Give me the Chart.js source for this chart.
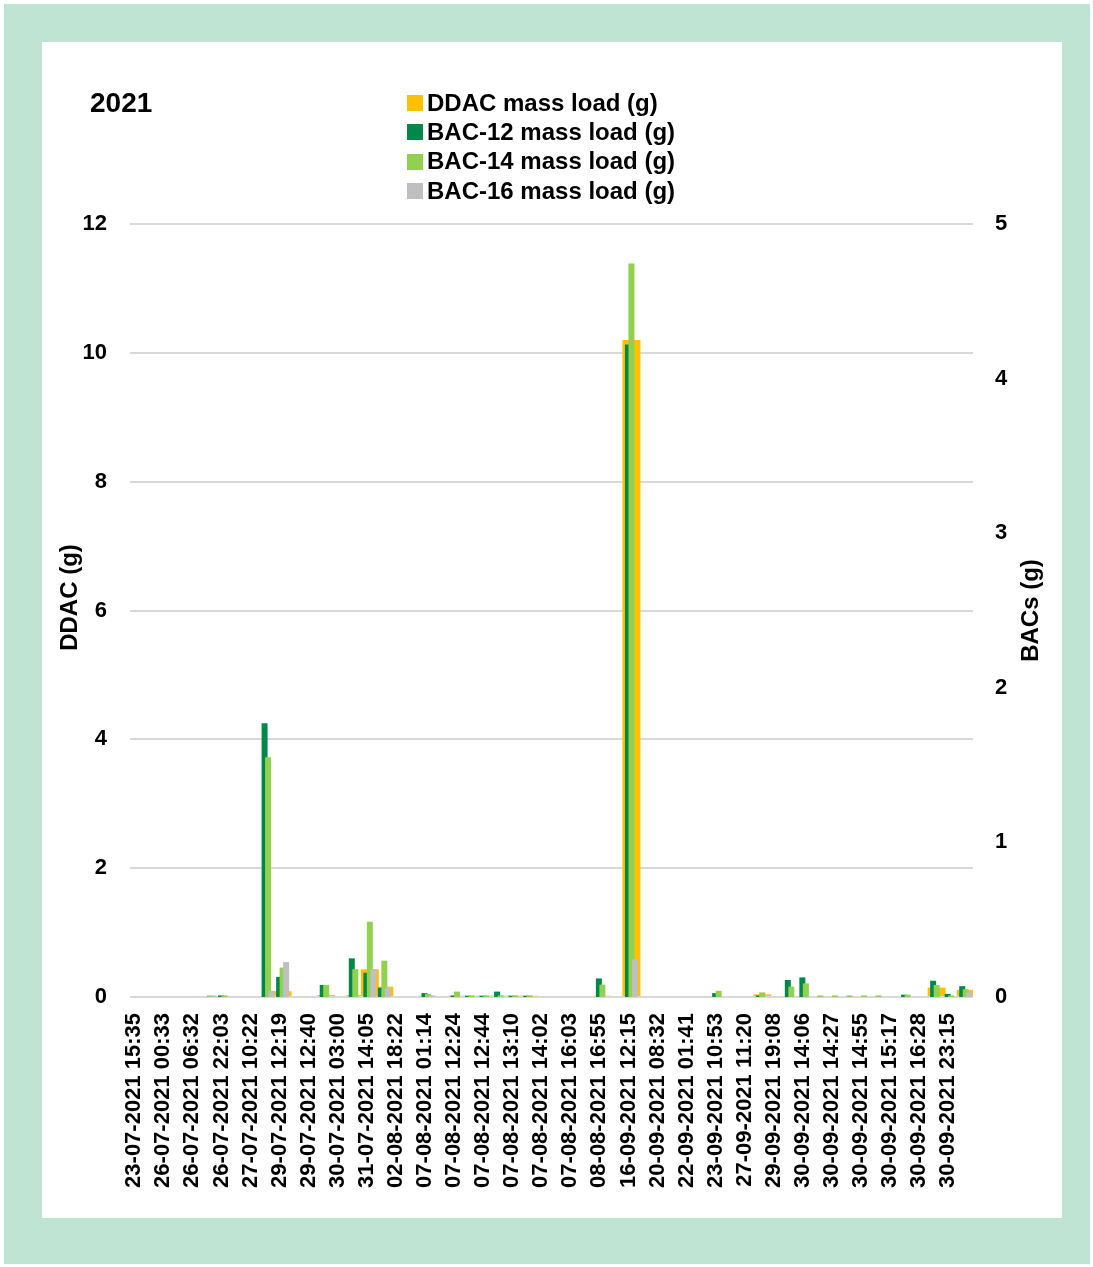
<!DOCTYPE html>
<html>
<head>
<meta charset="utf-8">
<script src="https://cdn.jsdelivr.net/npm/chart.js@4.4.0/dist/chart.umd.min.js"></script>
<style>
  html, body { margin: 0; padding: 0; background: #ffffff; }
  #frame { position: absolute; left: 4px; top: 4px; width: 1086px; height: 1260px; background: #bfe4d3; }
  #panel { position: absolute; left: 42px; top: 42px; width: 1020px; height: 1176px; background: #ffffff; }
  canvas { display: block; }
</style>
</head>
<body>
<div id="frame"></div>
<div id="panel"><canvas id="c" width="1020" height="1176"></canvas></div>
<script>
// ---------- data ----------
const chartTitle = '2021';
const axisTitles = ['DDAC (g)', 'BACs (g)'];
const seriesNames = ['DDAC mass load (g)', 'BAC-12 mass load (g)', 'BAC-14 mass load (g)', 'BAC-16 mass load (g)'];
const seriesColors = ['#FFC000', '#00884B', '#92D050', '#BFBFBF'];

// visible tick labels (every second category is labelled)
const tickLabels = [
  '23-07-2021 15:35', '26-07-2021 00:33', '26-07-2021 06:32', '26-07-2021 22:03',
  '27-07-2021 10:22', '29-07-2021 12:19', '29-07-2021 12:40', '30-07-2021 03:00',
  '31-07-2021 14:05', '02-08-2021 18:22', '07-08-2021 01:14', '07-08-2021 12:24',
  '07-08-2021 12:44', '07-08-2021 13:10', '07-08-2021 14:02', '07-08-2021 16:03',
  '08-08-2021 16:55', '16-09-2021 12:15', '20-09-2021 08:32', '22-09-2021 01:41',
  '23-09-2021 10:53', '27-09-2021 11:20', '29-09-2021 19:08', '30-09-2021 14:06',
  '30-09-2021 14:27', '30-09-2021 14:55', '30-09-2021 15:17', '30-09-2021 16:28',
  '30-09-2021 23:15'
];

// 58 sampling events; the unlabelled ones are left blank
const categories = [
  '23-07-2021 15:35', '', '26-07-2021 00:33', '', '26-07-2021 06:32', '', '26-07-2021 22:03', '',
  '27-07-2021 10:22', '', '29-07-2021 12:19', '', '29-07-2021 12:40', '', '30-07-2021 03:00', '',
  '31-07-2021 14:05', '', '02-08-2021 18:22', '', '07-08-2021 01:14', '', '07-08-2021 12:24', '',
  '07-08-2021 12:44', '', '07-08-2021 13:10', '', '07-08-2021 14:02', '', '07-08-2021 16:03', '',
  '08-08-2021 16:55', '', '16-09-2021 12:15', '', '20-09-2021 08:32', '', '22-09-2021 01:41', '',
  '23-09-2021 10:53', '', '27-09-2021 11:20', '', '29-09-2021 19:08', '', '30-09-2021 14:06', '',
  '30-09-2021 14:27', '', '30-09-2021 14:55', '', '30-09-2021 15:17', '', '30-09-2021 16:28', '',
  '30-09-2021 23:15', ''
];

const ddacValues = [
  0, 0, 0, 0, 0, 0, 0, 0, 0, 0,
  0.09, 0, 0, 0.03, 0, 0.03, 0.43, 0.16, 0, 0,
  0.02, 0, 0.02, 0.02, 0.02, 0.02, 0.02, 0.02, 0, 0,
  0, 0, 0.02, 0, 10.2, 0, 0, 0, 0, 0,
  0, 0, 0, 0.04, 0, 0, 0, 0, 0, 0,
  0, 0, 0, 0, 0, 0.145, 0, 0.11
];
const bac12Values = [
  0, 0, 0, 0, 0, 0, 0.01, 0, 0, 1.77,
  0.13, 0, 0, 0.078, 0, 0.25, 0.157, 0.06, 0, 0,
  0.025, 0, 0.01, 0.008, 0.008, 0.035, 0.008, 0.008, 0, 0,
  0, 0, 0.12, 0, 4.22, 0, 0, 0, 0, 0,
  0.025, 0, 0, 0.01, 0, 0.11, 0.127, 0, 0, 0,
  0, 0, 0, 0.015, 0, 0.105, 0.02, 0.07
];
const bac14Values = [
  0, 0, 0, 0, 0, 0.01, 0.01, 0, 0, 1.55,
  0.19, 0, 0, 0.078, 0, 0.18, 0.487, 0.235, 0, 0,
  0.02, 0, 0.035, 0.01, 0.01, 0.01, 0.01, 0.01, 0, 0,
  0, 0, 0.08, 0, 4.745, 0, 0, 0, 0, 0,
  0.04, 0, 0, 0.03, 0, 0.067, 0.088, 0.01, 0.01, 0.01,
  0.01, 0.01, 0, 0.015, 0, 0.078, 0.01, 0.05
];
const bac16Values = [
  0, 0, 0, 0, 0, 0.01, 0, 0, 0, 0.04,
  0.226, 0, 0, 0, 0, 0, 0.18, 0.06, 0, 0,
  0.01, 0, 0, 0, 0, 0, 0, 0, 0, 0,
  0, 0, 0, 0, 0.244, 0, 0, 0, 0, 0,
  0, 0, 0, 0, 0, 0, 0, 0, 0, 0,
  0, 0, 0, 0, 0, 0, 0, 0.03
];

const leftAxis = { min: 0, max: 12, step: 2 };
const rightAxis = { min: 0, max: 5, step: 1 };

// ---------- chart ----------
const FONT = '"Liberation Sans", Arial, Helvetica, sans-serif';
Chart.defaults.font.family = FONT;
Chart.defaults.color = '#000000';

// BAC series: later series drawn on top (as in the original)
const drawOrder = {
  id: 'drawOrder',
  beforeDatasetDraw(chart, args) {
    if (args.meta.yAxisID === 'y1' && !chart.$ordered) return false;
  },
  afterDatasetsDraw(chart) {
    const a = chart.chartArea, ctx = chart.ctx;
    ctx.save();
    ctx.beginPath();
    ctx.rect(a.left, a.top, a.right - a.left, a.bottom - a.top);
    ctx.clip();
    chart.data.datasets.forEach((ds, i) => {
      if (ds.yAxisID === 'y1') chart.getDatasetMeta(i).controller.draw();
    });
    ctx.restore();
  }
};

const textBlocks = {
  id: 'textBlocks',
  afterDraw(chart) {
    const ctx = chart.ctx;
    const a = chart.chartArea;
    ctx.save();
    ctx.fillStyle = '#000';
    ctx.textBaseline = 'middle';
    ctx.textAlign = 'left';
    ctx.font = 'bold 28px ' + FONT;
    ctx.fillText(chartTitle, 48, 62);

    ctx.font = 'bold 24px ' + FONT;
    chart.data.datasets.forEach((ds, i) => {
      const cy = 61 + i * 29.4;
      ctx.fillStyle = ds.backgroundColor;
      ctx.fillRect(365, Math.round(cy - 8), 16, 16);
      ctx.fillStyle = '#000';
      ctx.fillText(ds.label, 385, cy + 1);
    });

    ctx.textAlign = 'center';
    ctx.font = 'bold 24px ' + FONT;
    ctx.save();
    ctx.translate(28, a.top + (a.bottom - a.top) / 2 - 13);
    ctx.rotate(-Math.PI / 2);
    ctx.fillText(axisTitles[0], 0, 0);
    ctx.restore();
    ctx.save();
    ctx.translate(989, a.top + (a.bottom - a.top) / 2);
    ctx.rotate(-Math.PI / 2);
    ctx.fillText(axisTitles[1], 0, 0);
    ctx.restore();
    ctx.restore();
  }
};

new Chart(document.getElementById('c'), {
  type: 'bar',
  data: {
    labels: categories,
    datasets: [
      { label: seriesNames[0], data: ddacValues, yAxisID: 'y', backgroundColor: seriesColors[0],
        grouped: false, categoryPercentage: 1, barPercentage: 1.24, order: 1, borderWidth: 0 },
      { label: seriesNames[1], data: bac12Values, yAxisID: 'y1', backgroundColor: seriesColors[1],
        categoryPercentage: 0.723, barPercentage: 1.71, order: 0, borderWidth: 0 },
      { label: seriesNames[2], data: bac14Values, yAxisID: 'y1', backgroundColor: seriesColors[2],
        categoryPercentage: 0.723, barPercentage: 1.71, order: 0, borderWidth: 0 },
      { label: seriesNames[3], data: bac16Values, yAxisID: 'y1', backgroundColor: seriesColors[3],
        categoryPercentage: 0.723, barPercentage: 1.71, order: 0, borderWidth: 0 }
    ]
  },
  options: {
    responsive: false,
    animation: false,
    devicePixelRatio: 1,
    layout: { padding: { top: 182, left: 0, right: 0, bottom: 0 } },
    plugins: {
      legend: { display: false },
      title: { display: false },
      tooltip: { enabled: false }
    },
    scales: {
      x: {
        type: 'category',
        offset: true,
        grid: { display: false, drawTicks: false },
        border: { display: false },
        ticks: {
          autoSkip: false, maxRotation: 90, minRotation: 90, padding: 16, labelOffset: -3,
          color: '#000', font: { size: 22, weight: 'bold' }
        },
        afterFit(s) { s.height = 221; }
      },
      y: {
        position: 'left',
        min: leftAxis.min, max: leftAxis.max,
        ticks: { stepSize: leftAxis.step, padding: 23, color: '#000', font: { size: 22, weight: 'bold' } },
        grid: { color: '#d9d9d9', lineWidth: 2, drawTicks: false },
        border: { display: false },
        afterFit(s) { s.width = 88; }
      },
      y1: {
        position: 'right',
        min: rightAxis.min, max: rightAxis.max,
        ticks: { stepSize: rightAxis.step, padding: 22, color: '#000', font: { size: 22, weight: 'bold' } },
        grid: { display: false, drawTicks: false },
        border: { display: false },
        afterFit(s) { s.width = 89; }
      }
    }
  },
  plugins: [drawOrder, textBlocks]
});
</script>
</body>
</html>
